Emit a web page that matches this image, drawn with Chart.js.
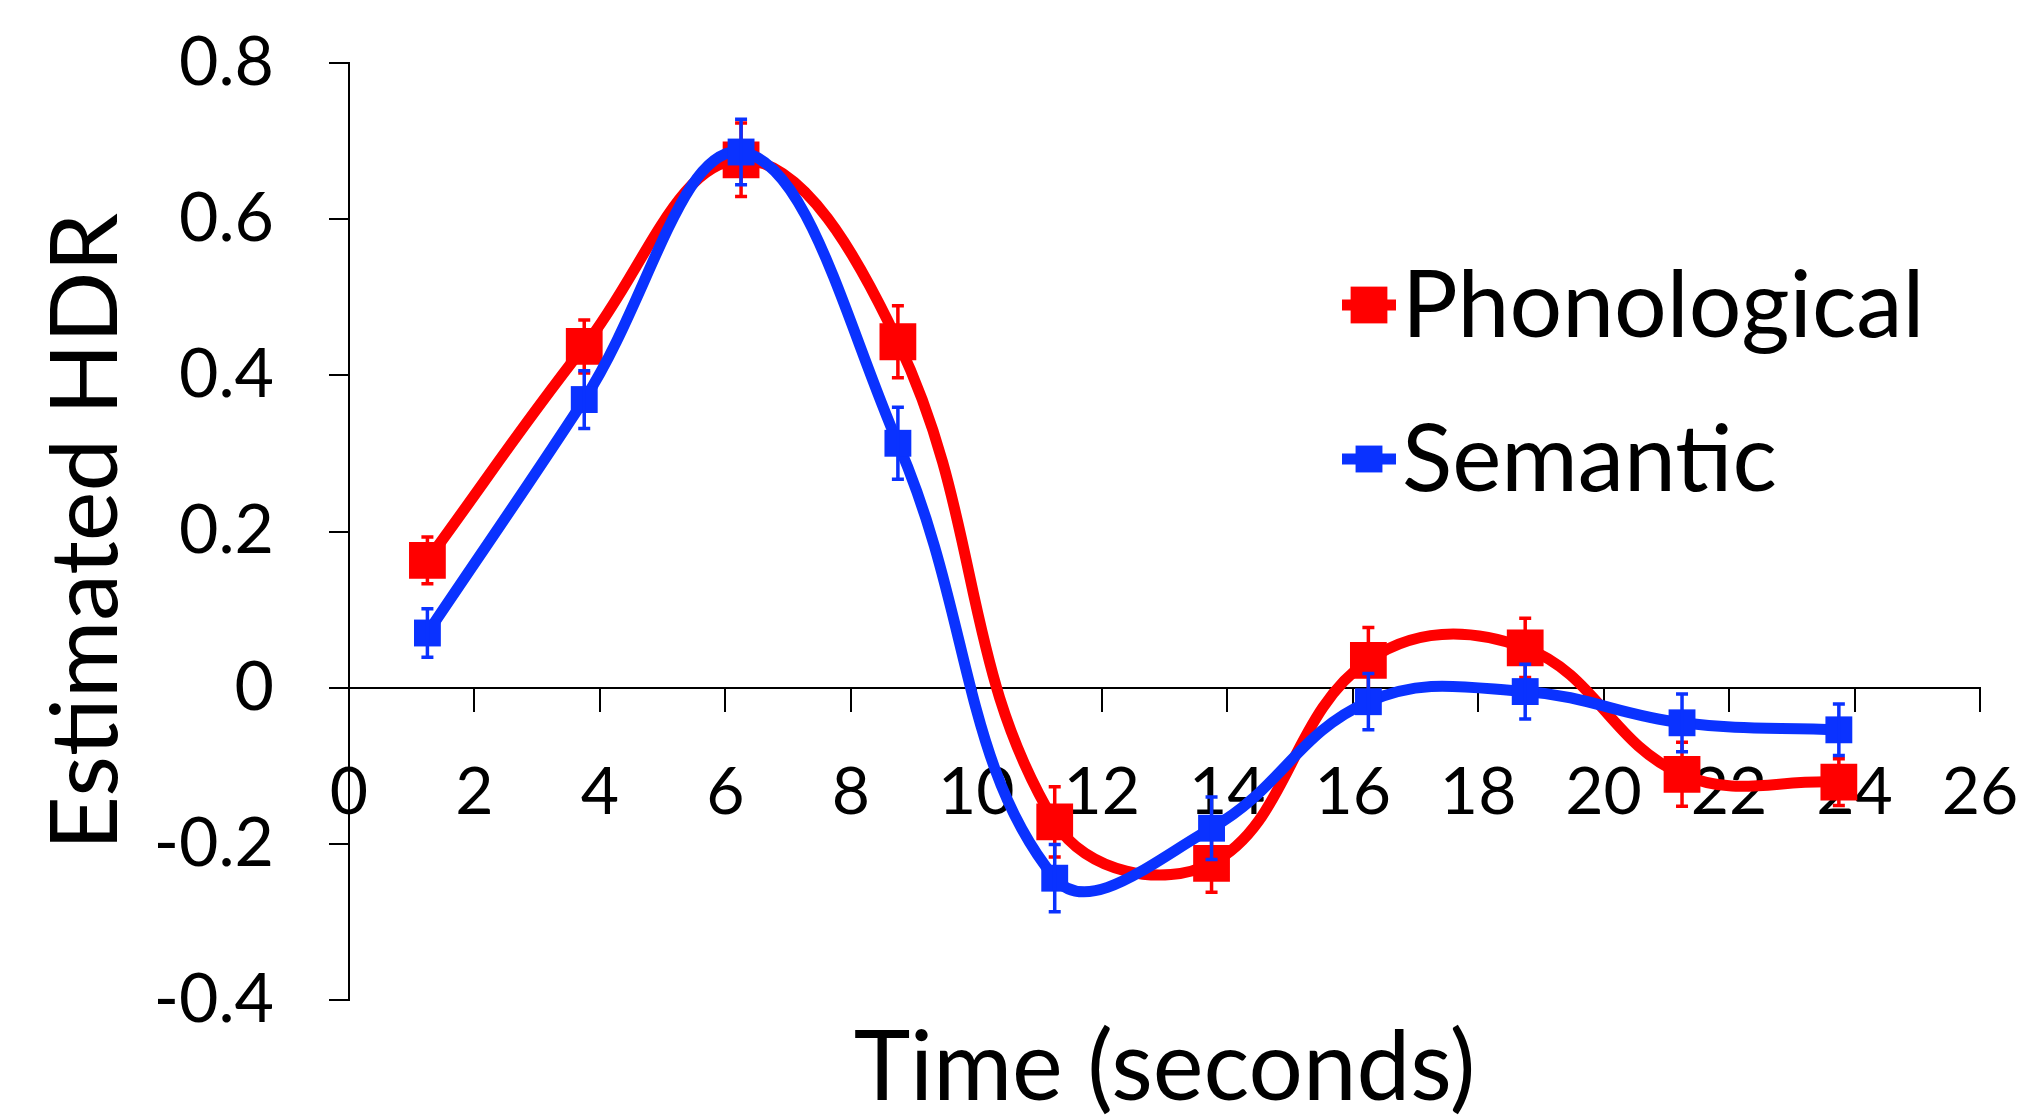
<!DOCTYPE html>
<html>
<head>
<meta charset="utf-8">
<script src="https://cdn.jsdelivr.net/npm/chart.js@4.4.0/dist/chart.umd.min.js"></script>
<style>
  html, body { margin: 0; padding: 0; background: #fff; }
</style>
</head>
<body>
<canvas id="myChart" width="2017" height="1120"></canvas>
<script>
// time points (seconds) and estimated HDR per condition
var time = [1.25, 3.75, 6.25, 8.75, 11.25, 13.75, 16.25, 18.75, 21.25, 23.75];
var phonological = [0.163, 0.437, 0.676, 0.443, -0.172, -0.225, 0.035, 0.051, -0.111, -0.121];
var phonologicalErr = [0.030, 0.034, 0.047, 0.046, 0.045, 0.037, 0.042, 0.038, 0.041, 0.030];
var semantic = [0.070, 0.369, 0.686, 0.313, -0.244, -0.180, -0.018, -0.005, -0.045, -0.054];
var semanticErr = [0.031, 0.037, 0.042, 0.046, 0.043, 0.040, 0.036, 0.035, 0.037, 0.033];
var yTickLabels = ['-0.4', '-0.2', '0', '0.2', '0.4', '0.6', '0.8'];
var xTickLabels = ['0', '2', '4', '6', '8', '10', '12', '14', '16', '18', '20', '22', '24', '26'];

var RED = '#ff0000';
var BLUE = '#0a32ff';

function toPoints(vals) {
  return time.map(function (t, i) { return { x: t, y: vals[i] }; });
}

Chart.defaults.font.family = 'Lato';
Chart.defaults.color = '#000';

// error bars, drawn right after each dataset
var errorBars = {
  id: 'errorBars',
  afterDatasetDraw: function (chart, args) {
    var errs = [phonologicalErr, semanticErr][args.index];
    var vals = [phonological, semantic][args.index];
    var ctx = chart.ctx, xs = chart.scales.x, ys = chart.scales.y;
    ctx.save();
    ctx.strokeStyle = chart.data.datasets[args.index].borderColor;
    ctx.lineWidth = 3.5;
    for (var i = 0; i < time.length; i++) {
      var px = xs.getPixelForValue(time[i]);
      var top = ys.getPixelForValue(vals[i] + errs[i]);
      var bot = ys.getPixelForValue(vals[i] - errs[i]);
      ctx.beginPath();
      ctx.moveTo(px, top); ctx.lineTo(px, bot);
      ctx.moveTo(px - 6, top); ctx.lineTo(px + 6, top);
      ctx.moveTo(px - 6, bot); ctx.lineTo(px + 6, bot);
      ctx.stroke();
    }
    ctx.restore();
  }
};

// legend inside the plot, plus x axis title under it
var extras = {
  id: 'extras',
  afterDraw: function (chart) {
    var ctx = chart.ctx;
    var ds = chart.data.datasets;
    var rows = [305, 459];
    ctx.save();
    ds.forEach(function (d, i) {
      var y = rows[i];
      ctx.strokeStyle = d.borderColor;
      ctx.lineWidth = 11;
      ctx.beginPath();
      ctx.moveTo(1342, y); ctx.lineTo(1396, y);
      ctx.stroke();
      var s = d.pointRadius * Math.SQRT1_2;
      ctx.fillStyle = d.borderColor;
      ctx.fillRect(1369 - s, y - s, 2 * s, 2 * s);
      ctx.fillStyle = '#000';
      ctx.font = '93px Lato';
      ctx.textBaseline = 'middle';
      ctx.textAlign = 'left';
      ctx.fillText(d.label, 1402, y + 2);
    });
    var a = chart.chartArea;
    ctx.font = '96px Lato';
    ctx.textAlign = 'center';
    ctx.textBaseline = 'alphabetic';
    ctx.fillText('Time (seconds)', (a.left + a.right) / 2, 1100);
    ctx.restore();
  }
};

var data = {
  datasets: [
    {
      label: 'Phonological',
      data: toPoints(phonological),
      borderColor: RED,
      backgroundColor: RED,
      borderWidth: 11,
      pointStyle: 'rect',
      pointRadius: 26,
      pointBorderWidth: 0,
      tension: 0.4,
      order: 1
    },
    {
      label: 'Semantic',
      data: toPoints(semantic),
      borderColor: BLUE,
      backgroundColor: BLUE,
      borderWidth: 11,
      pointStyle: 'rect',
      pointRadius: 19,
      pointBorderWidth: 0,
      tension: 0.4,
      order: 0
    }
  ]
};

var options = {
  responsive: false,
  animation: false,
  layout: { padding: { left: 0, top: 63, right: 37, bottom: 120 } },
  plugins: { legend: { display: false }, tooltip: { enabled: false } },
  scales: {
    x: {
      type: 'linear',
      position: { y: 0 },
      min: 0,
      max: 26,
      ticks: {
        stepSize: 2,
        autoSkip: false,
        maxRotation: 0,
        padding: 42,
        font: { size: 66 },
        callback: function (v) { return xTickLabels[Math.round(v / 2)]; }
      },
      grid: { drawOnChartArea: false, drawTicks: true, tickLength: 23, color: '#000', lineWidth: 2 },
      border: { color: '#000', width: 2 },
      afterFit: function (scale) { scale.paddingLeft = 0; scale.paddingRight = 0; }
    },
    y: {
      type: 'linear',
      min: -0.4,
      max: 0.8,
      ticks: {
        stepSize: 0.2,
        padding: 55,
        font: { size: 68 },
        callback: function (v) { return yTickLabels[Math.round((v + 0.4) / 0.2)]; }
      },
      grid: { drawOnChartArea: false, drawTicks: true, tickLength: 20, color: '#000', lineWidth: 2 },
      border: { color: '#000', width: 2 },
      title: { display: true, text: 'Estimated HDR', font: { size: 94 }, padding: { top: 30, bottom: 0 } },
      afterFit: function (scale) { scale.width = 349; scale.paddingTop = 0; scale.paddingBottom = 0; }
    }
  }
};

var ctx = document.getElementById('myChart').getContext('2d');
var myLineChart = new Chart(ctx, {
  type: 'line',
  data: data,
  options: options,
  plugins: [errorBars, extras]
});
</script>
</body>
</html>
